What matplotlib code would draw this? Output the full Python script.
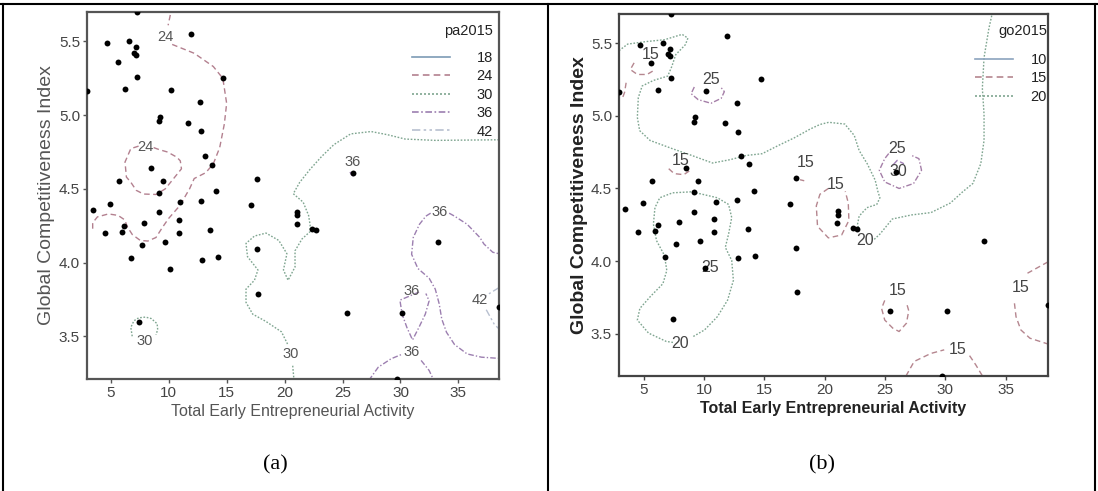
import matplotlib
matplotlib.use('Agg')
import matplotlib.pyplot as plt
from matplotlib.lines import Line2D

W, H = 1098, 491
fig = plt.figure(figsize=(W / 100, H / 100), dpi=100)

NARROW = ['Liberation Sans Narrow', 'Liberation Sans', 'DejaVu Sans']
SANS = ['Liberation Sans', 'DejaVu Sans']
SERIF = ['Liberation Serif', 'DejaVu Serif']

# ---------------- data (shared by both panels) ----------------
tea = [7.3, 4.7, 6.6, 7.15, 7.0, 7.2, 5.6, 7.3, 6.2, 10.2, 11.9, 14.7, 12.7, 9.25, 9.2,
       11.7, 12.8, 13.1, 13.7, 8.5, 5.7, 9.5, 9.2, 14.1, 17.6, 2.95, 4.9, 3.45, 11.0, 12.75,
       17.1, 7.9, 9.15, 10.85, 6.15, 5.95, 4.5, 10.85, 13.6, 7.7, 9.65, 6.75, 12.85, 14.25,
       10.1, 17.65, 17.7, 7.4, 21.1, 21.1, 21.05, 22.35, 22.7, 33.2, 25.4, 30.15, 29.7, 38.5, 25.9]
gci = [5.70, 5.49, 5.50, 5.46, 5.425, 5.41, 5.36, 5.26, 5.18, 5.17, 5.55, 5.25, 5.09, 4.99, 4.96,
       4.95, 4.89, 4.72, 4.665, 4.64, 4.55, 4.55, 4.475, 4.485, 4.57, 5.165, 4.40, 4.36, 4.41, 4.42,
       4.39, 4.27, 4.34, 4.29, 4.25, 4.21, 4.20, 4.20, 4.22, 4.12, 4.14, 4.03, 4.02, 4.035,
       3.955, 4.09, 3.79, 3.60, 4.345, 4.32, 4.265, 4.225, 4.22, 4.14, 3.66, 3.66, 3.21, 3.70, 4.61]

x_ticks = [5, 10, 15, 20, 25, 30, 35]
x_ticklabels = ['5', '10', '15', '20', '25', '30', '35']
y_ticks = [3.5, 4.0, 4.5, 5.0, 5.5]
y_ticklabels = ['3.5', '4.0', '4.5', '5.0', '5.5']

# ---------------- panel (a) contour lines: pa2015 ----------------
pa_levels = [18, 24, 30, 36, 42]
pa24_top = [(10.3, 5.74), (9.95, 5.61)]
pa24_main = [(10.3, 5.48), (12.2, 5.42), (13.85, 5.33), (14.67, 5.25), (15.0, 5.08), (14.8, 4.94),
             (14.4, 4.78), (13.85, 4.67), (13.2, 4.61), (12.2, 4.57), (11.8, 4.5), (11.5, 4.46),
             (11.0, 4.39), (10.0, 4.30), (9.47, 4.24), (8.9, 4.17), (8.2, 4.146), (7.55, 4.15),
             (6.86, 4.19), (6.45, 4.24), (6.2, 4.29), (5.63, 4.32), (4.8, 4.33), (3.85, 4.31),
             (3.44, 4.27), (3.44, 4.225)]
pa24_loop = [(7.4, 4.79), (6.73, 4.773), (6.23, 4.682), (6.35, 4.58), (6.73, 4.545), (7.2, 4.49),
             (7.82, 4.465), (8.92, 4.462), (9.7, 4.5), (10.29, 4.557), (11.1, 4.636), (11.0, 4.69),
             (10.7, 4.715), (9.9, 4.75), (9.19, 4.766), (8.7, 4.78)]
pa30_small = [(6.85, 3.50), (6.73, 3.56), (7.0, 3.605), (7.41, 3.625), (8.0, 3.63), (8.5, 3.62),
              (9.0, 3.585), (9.05, 3.545), (8.9, 3.51)]
pa30_main = [(38.5, 4.833), (33.0, 4.829), (30.4, 4.838), (28.9, 4.867), (27.46, 4.889),
             (25.7, 4.873), (24.25, 4.80), (23.2, 4.72), (22.2, 4.633), (21.3, 4.544),
             (20.75, 4.467), (21.6, 4.41), (22.07, 4.32), (22.2, 4.256), (22.2, 4.21), (21.5, 4.16),
             (20.9, 4.08), (20.9, 3.97), (20.3, 3.88), (19.9, 3.95), (20.2, 4.06), (19.5, 4.15),
             (18.4, 4.2), (17.4, 4.18), (16.67, 4.13), (16.8, 4.04), (17.7, 3.95), (17.4, 3.88),
             (16.67, 3.82), (16.67, 3.73), (17.25, 3.65), (18.4, 3.6), (19.73, 3.53), (20.3, 3.44)]
pa30_tail = [(20.7, 3.30), (20.8, 3.21)]
pa36_dot = [(25.65, 4.615), (25.75, 4.597), (25.9, 4.588), (26.05, 4.597), (26.15, 4.615)]
pa36_left = [(32.6, 4.335), (32.19, 4.315), (31.64, 4.26), (31.1, 4.17), (30.96, 4.056),
             (31.5, 3.96), (32.47, 3.894), (33.0, 3.82), (33.34, 3.72), (33.56, 3.617),
             (33.97, 3.527), (34.66, 3.444), (35.75, 3.38), (36.99, 3.358), (38.5, 3.35)]
pa36_right = [(34.2, 4.335), (34.66, 4.315), (35.75, 4.26), (36.85, 4.17), (37.2, 4.126),
              (37.96, 4.07), (38.5, 4.06)]
pa36_v = [(31.6, 3.80), (29.95, 3.745), (30.14, 3.65), (30.55, 3.56), (31.04, 3.475),
          (31.59, 3.56), (32.14, 3.65), (32.47, 3.74), (32.19, 3.79)]
pa36_arc_l = [(27.26, 3.20), (28.08, 3.29), (29.18, 3.347), (30.2, 3.38)]
pa36_arc_r = [(31.78, 3.336), (32.47, 3.268), (32.88, 3.20)]
pa42 = [(38.5, 3.83), (37.67, 3.79), (37.3, 3.77)]
pa42_b = [(37.4, 3.68), (38.1, 3.58), (38.5, 3.55)]

pa_lines = [(24, pa24_top), (24, pa24_main), (24, pa24_loop), (30, pa30_small), (30, pa30_main),
            (30, pa30_tail), (36, pa36_dot), (36, pa36_left), (36, pa36_right), (36, pa36_v),
            (36, pa36_arc_l), (36, pa36_arc_r), (42, pa42), (42, pa42_b)]
pa_labels = [(9.7, 5.53, '24'), (7.96, 4.784, '24'), (7.96, 3.47, '30'), (20.55, 3.38, '30'),
             (25.9, 4.68, '36'), (33.4, 4.345, '36'), (30.96, 3.81, '36'), (30.96, 3.39, '36'),
             (36.8, 3.745, '42')]

# ---------------- panel (b) contour lines: go2015 ----------------
go_levels = [10, 15, 20]
go20_main_a = [(2.95, 5.448), (3.67, 5.493), (5.27, 5.511), (6.72, 5.523), (8.18, 5.56),
               (8.66, 5.534), (8.45, 5.489), (7.65, 5.42), (7.33, 5.34), (6.99, 5.273), (5.8, 5.243),
               (4.87, 5.205), (4.55, 5.125), (4.47, 4.989), (4.66, 4.898), (5.53, 4.83), (7.39, 4.773),
               (8.98, 4.727), (10.7, 4.675), (12.16, 4.698), (13.49, 4.727), (14.81, 4.739),
               (16.14, 4.795), (17.47, 4.848), (18.8, 4.909), (19.6, 4.94), (20.33, 4.955),
               (21.66, 4.943), (22.45, 4.864), (22.85, 4.761), (23.52, 4.67), (24.18, 4.557),
               (24.4, 4.48), (24.57, 4.436), (24.31, 4.39), (23.5, 4.368), (22.85, 4.31),
               (22.72, 4.255), (22.9, 4.2)]
go20_main_b = [(24.1, 4.15), (24.57, 4.186), (25.6, 4.29), (27.2, 4.318), (28.8, 4.334),
               (30.41, 4.4), (31.47, 4.48), (32.27, 4.534), (32.93, 4.67), (33.2, 4.83),
               (33.2, 5.01), (33.06, 5.19), (33.2, 5.4), (33.6, 5.6), (33.91, 5.716)]
go20_low = [(9.11, 3.482), (10.04, 3.527), (11.1, 3.618), (11.95, 3.732), (12.43, 3.868),
            (12.29, 4.005), (11.76, 4.095), (12.03, 4.186), (12.29, 4.3), (12.03, 4.39),
            (11.1, 4.436), (8.98, 4.477), (7.39, 4.47), (6.33, 4.436), (5.93, 4.368), (5.8, 4.255),
            (6.06, 4.141), (6.72, 4.039), (6.91, 3.936), (6.59, 3.845), (5.53, 3.755), (4.68, 3.675),
            (4.47, 3.595), (5.4, 3.505), (6.86, 3.448), (7.5, 3.44)]
go15_a = [(4.2, 5.364), (3.89, 5.318), (4.47, 5.284), (5.27, 5.284), (5.74, 5.307)]
go15_b = [(3.54, 5.227), (3.41, 5.16), (3.2, 5.114)]
go15_c = [(7.07, 4.636), (7.52, 4.602), (8.32, 4.595), (8.77, 4.62)]
go15_d = [(17.95, 4.56), (18.3, 4.553)]
go15_e = [(20.3, 4.5), (19.6, 4.46), (19.3, 4.38), (19.4, 4.24), (20.3, 4.16), (21.4, 4.18),
          (22.0, 4.28), (21.95, 4.4), (21.7, 4.48)]
go15_f = [(24.97, 3.73), (24.71, 3.675), (24.97, 3.595), (25.64, 3.539), (26.16, 3.516),
          (26.77, 3.573), (26.96, 3.659), (26.75, 3.72)]
go15_g = [(38.5, 3.995), (36.8, 3.917)]
go15_g2 = [(35.72, 3.71), (35.85, 3.618), (36.25, 3.527), (37.0, 3.47), (38.5, 3.43)]
go15_h = [(26.73, 3.21), (27.41, 3.31), (28.79, 3.365), (29.9, 3.39)]
go15_h2 = [(32.0, 3.35), (32.52, 3.286), (33.07, 3.21)]
go25_a = [(9.19, 5.198), (8.93, 5.152), (9.51, 5.111), (10.57, 5.086), (11.42, 5.12),
          (11.68, 5.166), (11.37, 5.198)]
go25_b = [(25.3, 4.74), (24.97, 4.705), (24.52, 4.625), (24.97, 4.545), (26.16, 4.5),
          (27.36, 4.534), (28.02, 4.625), (27.8, 4.705), (27.2, 4.727)]
go30_a = [(25.64, 4.66), (26.0, 4.693), (26.56, 4.67)]

go_lines = [(20, go20_main_a), (20, go20_main_b), (20, go20_low), (15, go15_a), (15, go15_b),
            (15, go15_c), (15, go15_d), (15, go15_e), (15, go15_f), (15, go15_g), (15, go15_g2),
            (15, go15_h), (15, go15_h2), (25, go25_a), (25, go25_b), (30, go30_a)]
go_labels = [(5.53, 5.42, '15'), (10.57, 5.25, '25'), (8.05, 4.693, '15'), (18.4, 4.68, '15'),
             (20.9, 4.53, '15'), (26.03, 4.773, '25'), (26.1, 4.614, '30'), (23.38, 4.141, '20'),
             (8.05, 3.436, '20'), (10.5, 3.955, '25'), (26.03, 3.8, '15'), (36.25, 3.82, '15'),
             (31.0, 3.39, '15')]

# ---------------- styles ----------------
pa_style = {
    18: dict(color='#7d9bb5', linestyle='-'),
    24: dict(color='#b3808f', linestyle=(0, (4, 2.5))),
    30: dict(color='#7fa590', linestyle=(0, (1.2, 1.2))),
    36: dict(color='#9c7fb0', linestyle=(0, (4, 1.5, 1, 1.5))),
    42: dict(color='#b8c0d0', linestyle=(0, (5, 2, 1.5, 2, 1.5, 2))),
}
go_style = {
    10: dict(color='#8ba3bd', linestyle='-'),
    15: dict(color='#b5868f', linestyle=(0, (4, 2.5))),
    20: dict(color='#7fa590', linestyle=(0, (1.2, 1.2))),
    25: dict(color='#a57fa8', linestyle=(0, (4, 1.5, 1, 1.5))),
    30: dict(color='#a07fb5', linestyle=(0, (5, 2))),
}


def rect(l, r, t, b):
    return [l / W, 1 - b / H, (r - l) / W, (b - t) / H]


def panel(box, lines, labels, style, levels, title, leg_right, leg_top, title_y, textpad,
          bold, ylab_x):
    ax = fig.add_axes(rect(*box))
    lab_size = 11.5 if bold else 10.5
    lab_col = '#444444' if bold else '#555555'
    for lev, pts in lines:
        xs = [p[0] for p in pts]
        ys = [p[1] for p in pts]
        ax.plot(xs, ys, lw=1.0, **style[lev], zorder=2)
    for x, y, t in labels:
        ax.text(x, y, t, ha='center', va='center', fontsize=lab_size, color=lab_col,
                family=NARROW, zorder=3)
    ax.scatter(tea, gci, s=18, c='black', zorder=5, linewidths=0)
    ax.set_xlim(min(tea), max(tea))
    ax.set_ylim(min(gci), max(gci))
    ax.set_xticks(x_ticks)
    ax.set_xticklabels(x_ticklabels)
    ax.set_yticks(y_ticks)
    ax.set_yticklabels(y_ticklabels)
    spine_col = '#444444' if bold else '#555555'
    for s in ax.spines.values():
        s.set_color(spine_col)
        s.set_linewidth(1.6)
    ax.tick_params(length=3, width=1, color=spine_col, labelcolor='#444444', labelsize=11, pad=2)
    for lab in ax.get_xticklabels() + ax.get_yticklabels():
        lab.set_family(NARROW)
    fw = 'bold' if bold else 'normal'
    lc = '#222222' if bold else '#555555'
    ax.set_xlabel('Total Early Entrepreneurial Activity', fontsize=11.5, family=SANS,
                  fontweight=fw, color=lc, labelpad=3)
    ax.set_ylabel('Global Competitiveness Index', fontsize=14, family=SANS,
                  fontweight=fw, color=lc)
    ax.yaxis.set_label_coords(ylab_x, 0.5)
    handles = [Line2D([], [], lw=1.2, **style[l]) for l in levels]
    leg = ax.legend(handles, [str(l) for l in levels], loc='upper right',
                    bbox_to_anchor=(leg_right / W, 1 - leg_top / H),
                    bbox_transform=fig.transFigure, frameon=False,
                    handlelength=2.6, handletextpad=textpad, labelspacing=0.3,
                    borderpad=0, borderaxespad=0,
                    prop=dict(family=NARROW, size=10.5))
    for t in leg.get_texts():
        t.set_color('#222222')
    fig.text(leg_right / W, 1 - title_y / H, title, ha='right', va='center',
             fontsize=10.5, family=NARROW, color='#222222')
    return ax


panel((87, 499, 12, 379), pa_lines, pa_labels, pa_style, pa_levels, 'pa2015',
      493, 51, 31, 1.8, False, -0.078)
panel((619, 1048, 14, 376), go_lines, go_labels, go_style, go_levels, 'go2015',
      1047, 53, 31, 1.2, True, -0.072)

# captions
fig.text(275 / W, 1 - 465 / H, '(a)', ha='center', va='center', fontsize=16, family=SERIF)
fig.text(822 / W, 1 - 465 / H, '(b)', ha='center', va='center', fontsize=16, family=SERIF)

# table borders
for xb in (3, 548, 1095):
    fig.add_artist(Line2D([xb / W, xb / W], [0, 1 - 4 / H], color='black', lw=1.5))
fig.add_artist(Line2D([0, 1], [1 - 4 / H, 1 - 4 / H], color='black', lw=1.5))

fig.savefig('out.png', dpi=100)
